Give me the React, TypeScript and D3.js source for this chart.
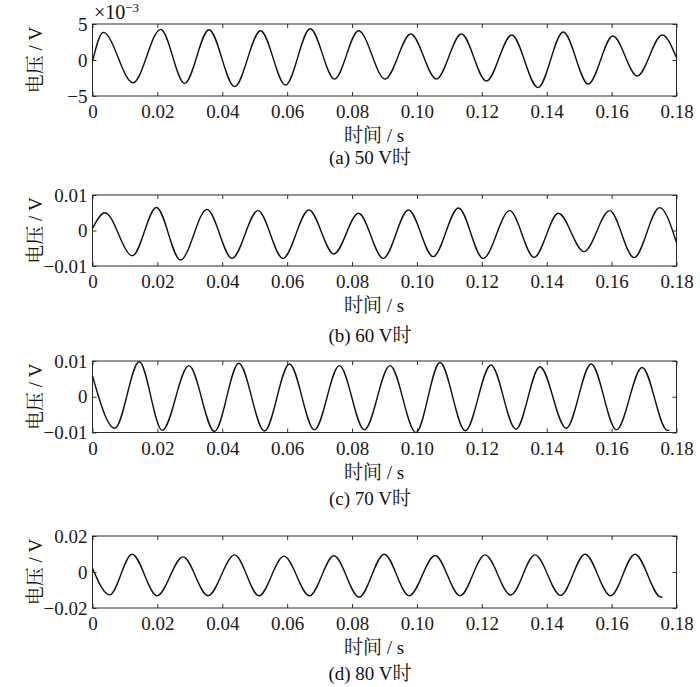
import { useRef, useEffect } from "react";
import * as d3 from "d3";

const FONT = "'Times New Roman', 'Liberation Serif', 'Noto Serif CJK SC', 'Noto Sans CJK SC', serif";

const LEFT = 92.5;
const RIGHT = 676.5;

// x axis (time, s)
const X_DOMAIN = [0, 0.18];
const X_TICKS = [0, 0.02, 0.04, 0.06, 0.08, 0.1, 0.12, 0.14, 0.16, 0.18];

// waveforms: [time s, voltage mV] at start, peaks/troughs, end
const WAVE_50: [number, number][] = [
  [0, -0.2], [0.0033, 3.84], [0.0125, -3.15], [0.021, 4.26], [0.0284, -3.24],
  [0.0359, 4.21], [0.0438, -3.7], [0.0518, 4.07], [0.0595, -3.47], [0.0671, 4.35],
  [0.0746, -2.64], [0.082, 4.07], [0.0902, -2.64], [0.0981, 3.61], [0.106, -2.64],
  [0.1137, 3.61], [0.1214, -2.92], [0.1292, 3.47], [0.1373, -3.84], [0.1451, 3.89],
  [0.1528, -3.33], [0.1604, 3.33], [0.1679, -2.22], [0.1756, 3.47], [0.18, 0.3],
];

const WAVE_60: [number, number][] = [
  [0, 0.6], [0.0038, 5.0], [0.0123, -7.1], [0.0197, 6.5], [0.0271, -8.3],
  [0.0353, 5.96], [0.043, -7.84], [0.051, 5.6], [0.0587, -7.84], [0.0667, 5.77],
  [0.0744, -6.6], [0.082, 4.84], [0.0896, -7.84], [0.0974, 5.77], [0.105, -7.37],
  [0.1128, 6.34], [0.1204, -7.84], [0.1286, 5.59], [0.1361, -7.56], [0.1436, 4.84],
  [0.1515, -5.96], [0.1594, 5.59], [0.1669, -7.65], [0.1748, 6.43], [0.18, -3.4],
];

const WAVE_70: [number, number][] = [
  [0, 5.8], [0.0069, -8.8], [0.0144, 9.8], [0.0215, -9.4], [0.0297, 8.7],
  [0.0376, -9.7], [0.0451, 9.35], [0.053, -9.6], [0.0607, 9.16], [0.0684, -9.26],
  [0.0761, 8.7], [0.0838, -9.26], [0.0917, 8.7], [0.0997, -10.0], [0.1071, 9.6],
  [0.1149, -9.5], [0.1228, 8.9], [0.1305, -9.07], [0.1379, 8.4], [0.146, -8.8],
  [0.1537, 9.16], [0.1615, -9.26], [0.1694, 8.2], [0.1772, -9.4], [0.1778, -9.35],
];

const WAVE_80: [number, number][] = [
  [0, 2.0], [0.0053, -12.7], [0.0122, 9.9], [0.0199, -13.2], [0.0279, 8.4],
  [0.0356, -13.2], [0.0438, 9.5], [0.0513, -13.2], [0.059, 8.8], [0.0669, -13.2],
  [0.0744, 9.0], [0.0822, -13.9], [0.0899, 9.9], [0.0976, -13.2], [0.1056, 9.2],
  [0.1133, -13.2], [0.121, 9.5], [0.1289, -12.8], [0.1364, 9.5], [0.1443, -13.0],
  [0.1518, 9.9], [0.1597, -13.2], [0.1672, 9.9], [0.1752, -13.9], [0.1757, -13.8],
];

// y limits (V) and tick labels
const Y_MAX = [0.005, 0.01, 0.01, 0.02];
const Y_TICK_LABELS = [
  ["−5", "0", "5"],
  ["−0.01", "0", "0.01"],
  ["−0.01", "0", "0.01"],
  ["−0.02", "0", "0.02"],
];
const CAPTIONS = ["(a) 50 V时", "(b) 60 V时", "(c) 70 V时", "(d) 80 V时"];
const WAVES = [WAVE_50, WAVE_60, WAVE_70, WAVE_80];

// panel layout (px)
const BOX_TOP = [24, 195, 361, 536];
const BOX_BOTTOM = [96, 266, 432.5, 608];
const CAPTION_Y = [164, 342, 505, 680];

const fmtX = (d: number) => (d === 0 ? "0" : d3.format(".2f")(d));

export default function App() {
  const svgRef = useRef<SVGSVGElement>(null);

  useEffect(() => {
    const svg = d3.select(svgRef.current);
    svg.selectAll("*").remove();

    WAVES.forEach((wave, i) => {
      const top = BOX_TOP[i];
      const bottom = BOX_BOTTOM[i];
      const max = Y_MAX[i];

      const x = d3.scaleLinear(X_DOMAIN, [LEFT, RIGHT]);
      const y = d3.scaleLinear([-max, max], [bottom, top]);
      const yTicks = [-max, 0, max];

      const g = svg.append("g");

      const styleAxis = (a: d3.Selection<SVGGElement, unknown, null, undefined>) => {
        a.select(".domain").remove();
        a.attr("font-size", 19).attr("font-family", FONT).attr("color", "#1a1a1a");
        a.selectAll("line").attr("stroke-width", 0.9);
      };

      // bottom
      g.append("g")
        .attr("transform", `translate(0,${bottom})`)
        .call(d3.axisBottom(x).tickValues(X_TICKS).tickFormat((d) => fmtX(+d)).tickSize(-4).tickSizeOuter(0).tickPadding(9))
        .call(styleAxis);
      // top
      g.append("g")
        .attr("transform", `translate(0,${top})`)
        .call(d3.axisTop(x).tickValues(X_TICKS).tickFormat(() => "").tickSize(-4).tickSizeOuter(0))
        .call(styleAxis);
      // left
      g.append("g")
        .attr("transform", `translate(${LEFT},0)`)
        .call(d3.axisLeft(y).tickValues(yTicks).tickFormat((_d, k) => Y_TICK_LABELS[i][k]).tickSize(-4).tickSizeOuter(0).tickPadding(5))
        .call(styleAxis);
      // right
      g.append("g")
        .attr("transform", `translate(${RIGHT},0)`)
        .call(d3.axisRight(y).tickValues(yTicks).tickFormat(() => "").tickSize(-4).tickSizeOuter(0))
        .call(styleAxis);

      g.append("rect")
        .attr("x", LEFT)
        .attr("y", top)
        .attr("width", RIGHT - LEFT)
        .attr("height", bottom - top)
        .attr("fill", "none")
        .attr("stroke", "#2a2a2a")
        .attr("stroke-width", 1);

      const line = d3.line<[number, number]>()
        .x((d) => x(d[0]))
        .y((d) => y(d[1] / 1000))
        .curve(d3.curveMonotoneX);

      g.append("path")
        .datum(wave)
        .attr("d", line)
        .attr("fill", "none")
        .attr("stroke", "#111")
        .attr("stroke-width", 1.4);

      // y label
      g.append("text")
        .attr("transform", `translate(42,${(top + bottom) / 2}) rotate(-90)`)
        .attr("text-anchor", "middle")
        .attr("font-family", FONT)
        .attr("font-size", 19)
        .attr("fill", "#111")
        .text("电压 / V");

      // x label
      g.append("text")
        .attr("x", 374)
        .attr("y", bottom + 46)
        .attr("text-anchor", "middle")
        .attr("font-family", FONT)
        .attr("font-size", 19)
        .attr("fill", "#111")
        .text("时间 / s");

      // caption
      g.append("text")
        .attr("x", 370)
        .attr("y", CAPTION_Y[i])
        .attr("text-anchor", "middle")
        .attr("font-family", FONT)
        .attr("font-size", 19)
        .attr("fill", "#111")
        .text(CAPTIONS[i]);

      if (i === 0) {
        const t = g.append("text")
          .attr("x", 94)
          .attr("y", 19)
          .attr("font-family", FONT)
          .attr("font-size", 20)
          .attr("fill", "#111");
        t.append("tspan").text("×10");
        t.append("tspan").attr("font-size", 13).attr("dy", -7).text("−3");
      }
    });
  }, []);

  return (
    <svg
      ref={svgRef}
      width={700}
      height={687}
      style={{ position: "absolute", left: 0, top: 0, background: "#fff" }}
    />
  );
}
